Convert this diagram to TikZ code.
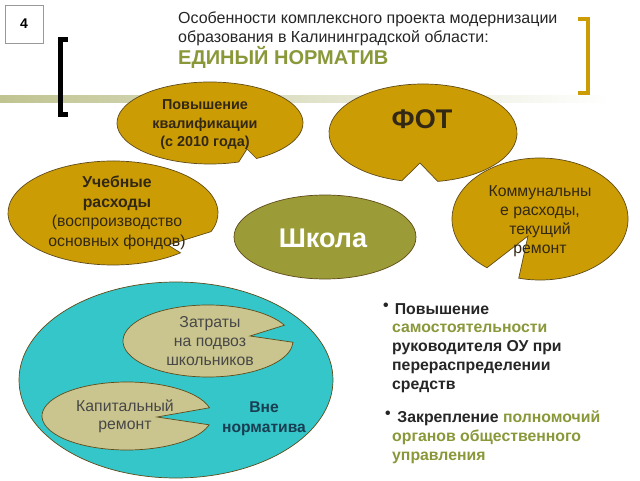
\documentclass[tikz,border=0pt]{standalone}
\usepackage{fontspec}
\setmainfont{Liberation Sans}
\usetikzlibrary{calc}
\definecolor{goldfill}{RGB}{204,156,4}
\definecolor{outl}{RGB}{95,75,25}
\definecolor{tealfill}{RGB}{52,198,200}
\definecolor{khaki}{RGB}{202,197,142}
\definecolor{olivefill}{RGB}{155,155,55}
\definecolor{greentxt}{RGB}{138,152,58}
\definecolor{darktxt}{RGB}{38,38,38}
\definecolor{blobtxt}{RGB}{50,40,20}
\definecolor{navytxt}{RGB}{25,62,82}
\definecolor{bandcol}{RGB}{192,196,145}
\newcommand{\pacblob}[9]{\path[#1] ([shift={(#2,#3)}]#7:#4 and #5) arc[start angle=#7, end angle=#6+360, x radius=#4, y radius=#5] -- (#8,#9) -- cycle;}
\tikzset{
  goldblob/.style={fill=goldfill, draw=outl, line width=0.7},
  khakiblob/.style={fill=khaki, draw=outl, line width=0.7},
  txt/.style={inner sep=0pt, align=center, text=blobtxt},
  reg/.style={font=\fontsize{15.8}{19}\selectfont},
  bld/.style={font=\fontsize{14.4}{18.5}\selectfont\bfseries},
  bul/.style={inner sep=0pt, align=left, anchor=north west, text=darktxt, font=\fontsize{15.8}{18.8}\selectfont\bfseries}
}
\begin{document}
\begin{tikzpicture}[x=1pt,y=1pt]
\useasboundingbox (0,0) rectangle (640,480);
\fill[white] (0,0) rectangle (640,480);
% band
\shade[left color=bandcol, right color=white] (0,377) rectangle (610,384);
% number box
\node[draw=gray!80, line width=0.6, minimum width=38, minimum height=38, inner sep=0, font=\fontsize{14}{16}\selectfont\bfseries] (num) at (24,456) {4};
% brackets
\draw[line width=5, miter limit=10] (68,440.5) -- (60.5,440.5) -- (60.5,365.5) -- (68,365.5);
\draw[goldfill, line width=4] (578,461) -- (588,461) -- (588,387) -- (578,387);
% title
\node[anchor=base west, inner sep=0, text=darktxt, font=\fontsize{16}{18}\selectfont] (t1) at (178,456) {Особенности комплексного проекта модернизации};
\node[anchor=base west, inner sep=0, text=darktxt, font=\fontsize{16}{18}\selectfont] (t2) at (178,437) {образования в Калининградской области:};
\node[anchor=base west, inner sep=0, text=greentxt, font=\fontsize{20}{22}\selectfont\bfseries] (t3) at (178,415) {ЕДИНЫЙ НОРМАТИВ};
% blobs
\pacblob{goldblob}{113}{267}{105}{52}{310}{339}{168}{235}
\pacblob{goldblob}{210}{357}{93}{41}{288}{300}{247}{331}
\pacblob{goldblob}{540}{261}{88}{61}{233}{256}{528}{244}
\pacblob{goldblob}{423}{347}{94}{49}{257}{279}{420}{317}
\fill[olivefill, draw=outl, line width=0.7] (325,243) ellipse[x radius=91, y radius=42];
% teal ellipse
\fill[tealfill, draw=outl, line width=0.7] (176,100) ellipse[x radius=157, y radius=98];
\pacblob{khakiblob}{208}{139}{85}{36}{-2}{26}{250}{144}
\pacblob{khakiblob}{127}{64}{85}{34}{-15}{14}{157}{63}
% blob texts
\node[txt, bld] (kval) at (205,355) {Повышение\\квалификации\\(с 2010 года)};
\node[txt, font=\fontsize{27}{30}\selectfont\bfseries] (fot) at (422,361) {ФОТ};
\node[txt, font=\fontsize{15.8}{19.5}\selectfont] (ucheb) at (117,267) {\bfseries Учебные\\\bfseries расходы\\(воспроизводство\\основных фондов)};
\node[txt, reg] (komm) at (540,258.5) {Коммунальны\\е расходы,\\текущий\\ремонт};
\node[txt, text=white, font=\fontsize{27}{30}\selectfont\bfseries] (shk) at (323,242) {Школа};
\node[txt, reg, text=darktxt!85] (podv) at (210,139) {Затраты\\на подвоз\\школьников};
\node[txt, font=\fontsize{15.8}{18}\selectfont, text=darktxt!85] (kap) at (125,64) {Капитальный\\ремонт};
\node[txt, text=navytxt, font=\fontsize{15.6}{20}\selectfont\bfseries] (vne) at (264,61) {Вне\\норматива};
% bullets
\node[bul] (b1) at (383,177) {•};
\node[bul] (p1) at (392,177) {\,Повышение\\\textcolor{greentxt}{самостоятельности}\\руководителя ОУ при\\перераспределении\\средств};
\node[bul] (b2) at (385,69) {•};
\node[bul] (p2) at (392,69) {\,\,Закрепление \textcolor{greentxt}{полномочий}\\\textcolor{greentxt}{органов общественного}\\\textcolor{greentxt}{управления}};
\end{tikzpicture}
\end{document}
